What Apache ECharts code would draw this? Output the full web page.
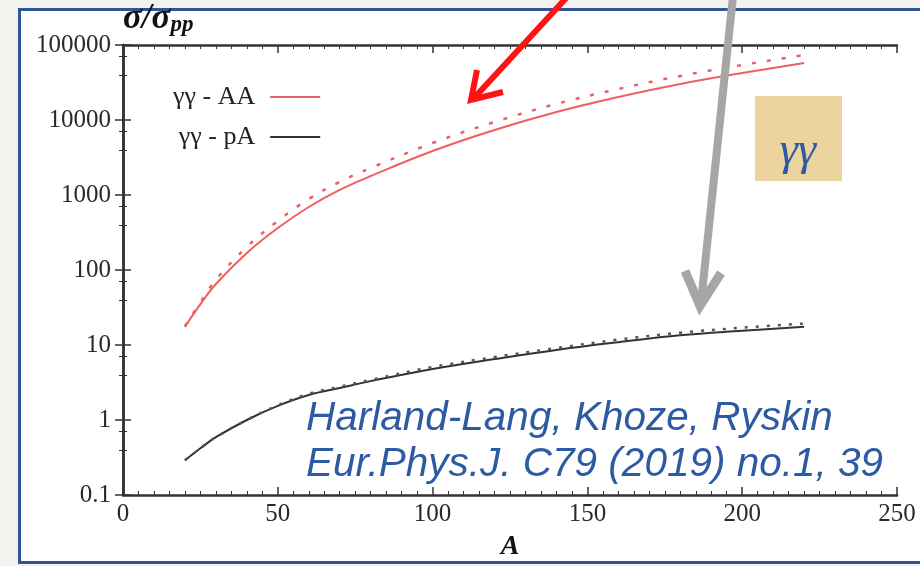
<!DOCTYPE html>
<html>
<head>
<meta charset="utf-8">
<script src="https://cdn.jsdelivr.net/npm/echarts@6/dist/echarts.min.js"></script>
<style>
  html, body { margin: 0; padding: 0; background: #f2f2ee; }
  #chart { width: 920px; height: 566px; }
</style>
</head>
<body>
<div id="chart"></div>
<script>
// values (sigma / sigma_pp vs A)
const massNumbers = [20, 25, 30, 40, 50, 60, 70, 80, 100, 120, 140, 160, 180, 200, 220];
const aaSolid = [17.4, 35, 65, 169, 363, 692, 1170, 1790, 3860, 7360, 12800, 20300, 30200, 42300, 57500];
const aaDashed = [17.9, 37, 74, 203, 450, 884, 1495, 2290, 4930, 9410, 16400, 25900, 38600, 54100, 73500];
const paSolid = [0.29, 0.42, 0.59, 1.0, 1.54, 2.15, 2.67, 3.3, 4.8, 6.5, 8.6, 10.9, 13.5, 15.5, 17.5];
const paDashed = [0.29, 0.42, 0.59, 1.0, 1.57, 2.24, 2.78, 3.43, 5.09, 6.9, 9.1, 11.8, 14.6, 17.0, 19.3];
const legendNames = ['γγ - AA', 'γγ - pA'];
const citation = ['Harland-Lang, Khoze, Ryskin', 'Eur.Phys.J. C79 (2019) no.1, 39'];

const serif = '"Liberation Serif", "DejaVu Serif", serif';
const frameColor = '#333';

function pairs(values) {
  return massNumbers.map((a, i) => [a, values[i]]);
}

function fmt(v) {
  return String(+Number(v).toPrecision(6));
}

let chart = echarts.init(document.getElementById('chart'));

let xBase = {
  type: 'value', min: 0, max: 250, interval: 50,
  axisLine: {lineStyle: {color: frameColor, width: 2.5}},
  axisTick: {inside: true, length: 8, lineStyle: {color: frameColor, width: 1.5}},
  minorTick: {show: true, splitNumber: 10, length: 4, lineStyle: {color: frameColor, width: 1}},
  splitLine: {show: false}
};
let yBase = {
  type: 'log', logBase: 10, min: 0.1, max: 100000, splitNumber: 6,
  axisLine: {lineStyle: {color: frameColor, width: 2.5}},
  axisTick: {inside: true, length: 8, lineStyle: {color: frameColor, width: 1.5}},
  minorTick: {show: true, splitNumber: 3, length: 4, lineStyle: {color: frameColor, width: 1}},
  splitLine: {show: false}
};

let option = {
  animation: false,
  grid: {left: 123, right: 23, top: 45, bottom: 71},
  legend: {
    data: legendNames,
    orient: 'vertical',
    left: 168,
    top: 79,
    align: 'right',
    icon: 'rect',
    itemWidth: 50,
    itemHeight: 2,
    itemGap: 14,
    textStyle: {fontFamily: serif, fontSize: 26, color: '#222', padding: [0, 10, 0, 0]}
  },
  xAxis: [
    Object.assign({}, xBase, {
      position: 'bottom',
      axisLabel: {fontFamily: serif, fontSize: 25, color: '#2a2a2a', margin: 7},
      name: 'A',
      nameLocation: 'middle',
      nameGap: 38,
      nameTextStyle: {fontFamily: serif, fontSize: 28, fontStyle: 'italic', fontWeight: 'bold', color: '#111'}
    }),
    Object.assign({}, xBase, {position: 'top', axisLabel: {show: false}})
  ],
  yAxis: [
    Object.assign({}, yBase, {
      position: 'left',
      axisLabel: {fontFamily: serif, fontSize: 25, color: '#2a2a2a', margin: 12, formatter: fmt},
      name: '{a|σ/σ}{b|pp}',
      nameLocation: 'end',
      nameGap: 8,
      nameTextStyle: {
        align: 'left',
        verticalAlign: 'bottom',
        rich: {
          a: {fontFamily: serif, fontSize: 35, fontStyle: 'italic', fontWeight: 'bold', color: '#111'},
          b: {fontFamily: serif, fontSize: 23, fontStyle: 'italic', fontWeight: 'bold', color: '#111', padding: [14, 0, 0, 0]}
        }
      }
    }),
    Object.assign({}, yBase, {position: 'right', axisLabel: {show: false}})
  ],
  graphic: [
    {
      type: 'rect', z: -10, silent: true,
      shape: {x: 19.5, y: 9.5, width: 940, height: 553},
      style: {fill: '#ffffff', stroke: '#2f5597', lineWidth: 3}
    },
    {
      type: 'rect', z: 50, silent: true,
      shape: {x: 755, y: 96, width: 87, height: 85},
      style: {fill: '#ebd49d'}
    },
    {
      type: 'text', z: 51, silent: true, x: 798, y: 152,
      style: {text: 'γγ', font: 'italic 46px ' + serif, fill: '#2d5ba3', align: 'center', verticalAlign: 'middle'}
    },
    {
      type: 'text', z: 51, silent: true, x: 306, y: 396,
      style: {text: citation.join('\n'), font: 'italic 40.5px "Liberation Sans", Arial, sans-serif', fill: '#2d5ba3', lineHeight: 46}
    },
    {
      type: 'line', z: 60, silent: true,
      shape: {x1: 568, y1: -4, x2: 475, y2: 97},
      style: {stroke: '#ff1414', lineWidth: 6}
    },
    {
      type: 'polyline', z: 60, silent: true,
      shape: {points: [[477, 70], [471, 100], [503, 92]]},
      style: {stroke: '#ff1414', lineWidth: 6, fill: null, lineJoin: 'miter'}
    },
    {
      type: 'line', z: 60, silent: true,
      shape: {x1: 733, y1: -4, x2: 701, y2: 303},
      style: {stroke: '#a6a6a6', lineWidth: 8}
    },
    {
      type: 'polyline', z: 60, silent: true,
      shape: {points: [[685, 271], [700, 306], [721, 273]]},
      style: {stroke: '#a6a6a6', lineWidth: 9, fill: null, lineJoin: 'miter'}
    }
  ],
  series: [
    {
      name: legendNames[0], type: 'line', data: pairs(aaSolid), smooth: 0.4,
      symbol: 'none', color: '#ef5f5f', lineStyle: {width: 2, color: '#ef5f5f'}
    },
    {
      name: 'AA dashed', type: 'line', data: pairs(aaDashed), smooth: 0.4,
      symbol: 'none', color: '#ef5f5f', lineStyle: {width: 2.5, color: '#ef5f5f', type: [4, 11]}
    },
    {
      name: legendNames[1], type: 'line', data: pairs(paSolid), smooth: 0.4,
      symbol: 'none', color: '#333333', lineStyle: {width: 2, color: '#333333'}
    },
    {
      name: 'pA dashed', type: 'line', data: pairs(paDashed), smooth: 0.4,
      symbol: 'none', color: '#555555', lineStyle: {width: 2.5, color: '#555555', type: [3, 8]}
    }
  ]
};

chart.setOption(option);
</script>
</body>
</html>
